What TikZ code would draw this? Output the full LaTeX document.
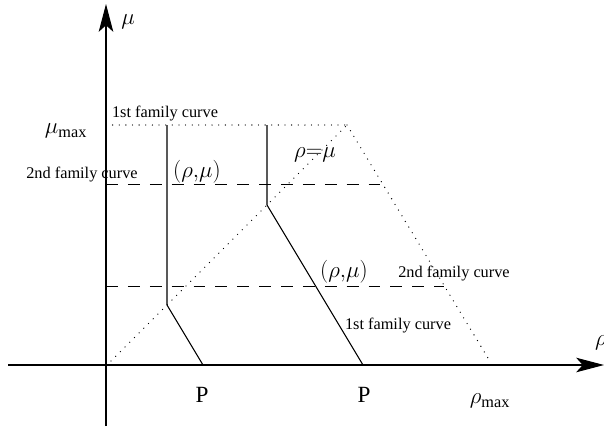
\documentclass[tikz,border=0pt]{standalone}
\usepackage{fontspec}
\setmainfont{Liberation Serif}
\usetikzlibrary{positioning,arrows.meta}

\begin{document}
\begin{tikzpicture}[x=0.0265cm, y=-0.0265cm,
	every node/.style={inner sep=0pt},
	small/.style={font=\fontsize{12.3}{14}\selectfont},
	big/.style={font=\fontsize{17.5}{20}\selectfont},
	axis/.style={line width=0.8pt, -{Stealth[length=21pt, width=11pt, inset=5pt]}},
	curve/.style={line width=0.8pt},
	family/.style={line width=0.65pt, dash pattern=on 9pt off 7.5pt},
	bound/.style={line width=1pt, line cap=round, dash pattern=on 0pt off 5pt}]
	\useasboundingbox (0,0) rectangle (604,428);
	% points
	\coordinate (O) at (106,365);
	\coordinate (Ybot) at (106,426);
	\coordinate (Ytop) at (106,4);
	\coordinate (Xleft) at (8,365);
	\coordinate (Xright) at (604,365);
	\coordinate (A) at (347,125);
	\coordinate (M) at (106,125);
	\coordinate (R) at (491,363);
	\coordinate (D0) at (111,361);
	\coordinate (P1) at (203,365);
	\coordinate (K1) at (167,305);
	\coordinate (T1) at (167,125);
	\coordinate (P2) at (363,365);
	\coordinate (K2) at (267,205);
	\coordinate (T2) at (267,125);
	\coordinate (Ua) at (106,184);
	\coordinate (Ub) at (382,184);
	\coordinate (La) at (106,286);
	\coordinate (Lb) at (444,286);
	% axes
	\draw[axis] (Ybot) -- (Ytop);
	\draw[axis] (Xleft) -- (Xright);
	% bounds
	\draw[bound] (M) -- (A);
	\draw[bound] (A) -- (R);
	\draw[bound] (D0) -- (A);
	% family curves
	\draw[family] (Ua) -- (Ub);
	\draw[family] (La) -- (Lb);
	\draw[curve] (P1) -- (K1) -- (T1);
	\draw[curve] (P2) -- (K2) -- (T2);
	% labels
	\node[big] (mu) at (128,22) {$\mu$};
	\node[big] (rho) at (601,343) {$\rho$};
	\node[big] (mumax) at (66,131) {$\mu_{\mathrm{max}}$};
	\node[big] (rhomax) at (490,401) {$\rho_{\mathrm{max}}$};
	\node[big] (p1) at (202,395) {P};
	\node[big] (p2) at (364,395) {P};
	\node[big] (pt1) at (197,172) {$(\rho{,}\mu)$};
	\node[big] (pt2) at (344,272) {$(\rho{,}\mu)$};
	\node[big] (diag) at (315,155) {$\rho{=}\mu$};
	\node[small] (first1) at (165,114) {1st family curve};
	\node[small] (second1) at (82,175) {2nd family curve};
	\node[small] (second2) at (454,274) {2nd family curve};
	\node[small] (first2) at (398,326) {1st family curve};
\end{tikzpicture}
\end{document}
